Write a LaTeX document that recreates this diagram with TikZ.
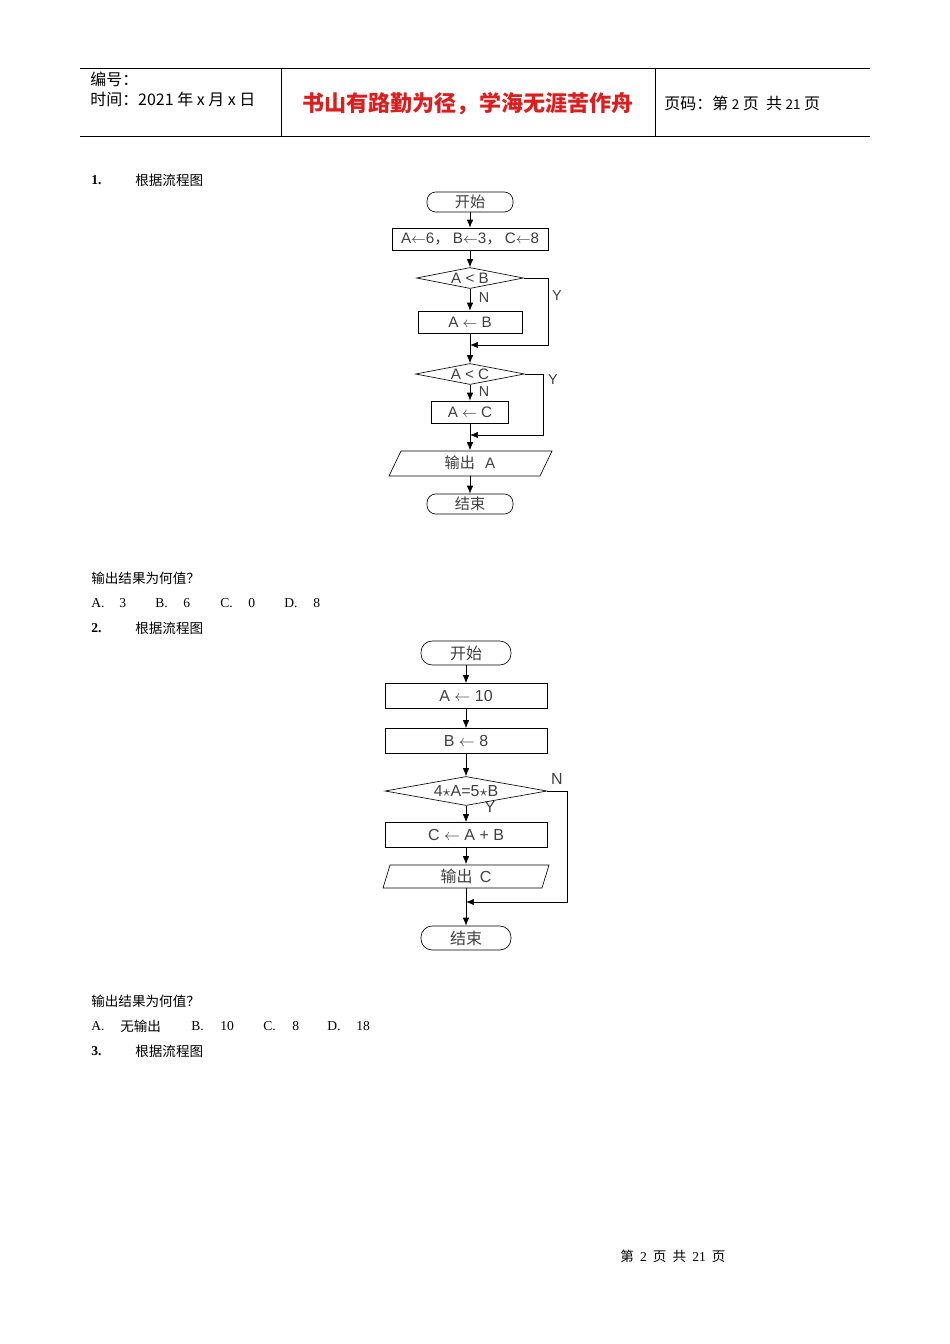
\documentclass[tikz,border=0pt]{standalone}
\usepackage{fontspec}
\setmainfont{Liberation Serif}
\newfontfamily\cjk{Noto Sans CJK SC}
\newfontfamily\sanf{Liberation Sans}
\usetikzlibrary{shapes.geometric,arrows.meta}
\def\u{0.626pt}
\begin{document}
\begin{tikzpicture}[x=0.626pt,y=-0.626pt,
  fc/.style={font=\cjk\fontsize{9.5}{10}\selectfont,inner sep=0,text=black!75},
  term/.style={fc,draw,rounded corners=5.5pt,minimum height=20*\u},
  proc/.style={fc,draw,rectangle,minimum height=22*\u},
  dec/.style={fc,draw,diamond,aspect=5,minimum height=21*\u},
  io/.style={fc},
  arr/.style={-{Latex[length=5pt,width=4pt]},thin},
  body/.style={font=\cjk\fontsize{8.5}{10}\selectfont,anchor=west,inner sep=0},
  opt/.style={font=\fontsize{8.5}{10}\selectfont,anchor=west,inner sep=0},
  lbl/.style={font=\sanf\fontsize{9}{10}\selectfont,inner sep=0,text=black!75}]
\useasboundingbox (0,0) rectangle (950,1344);
\fill[white] (0,0) rectangle (950,1344);
% header
\draw[thin] (80,68) -- (870,68) (80,136) -- (870,136) (281,68) -- (281,136) (655,68) -- (655,136);
\node[body,font=\cjk\fontsize{10}{12}\selectfont] (h1) at (90,79) {编号：};
\node[body,font=\cjk\fontsize{10}{12}\selectfont] (h2) at (90,99) {时间：2021 年 x 月 x 日};
\node[inner sep=0,font=\cjk\bfseries\fontsize{13.8}{15}\selectfont,text={rgb,255:red,220;green,30;blue,30}] (h3) at (468,104) {书山有路勤为径，学海无涯苦作舟};
\node[body,font=\cjk\fontsize{10}{12}\selectfont] (h4) at (664,103) {页码：第 {\fontsize{8.5}{10}\selectfont 2} 页\ \ 共 {\fontsize{8.5}{10}\selectfont 21} 页};
% question 1
\node[opt,font=\bfseries\fontsize{8.5}{10}\selectfont] (q1) at (91,180) {1.};
\node[body] (q1t) at (135,180) {根据流程图};
\node[term,minimum width=86*\u] (s1) at (470,202) {开始};
\node[proc,minimum width=156*\u] (b1) at (470,239) {{\sanf A}$\leftarrow${\sanf 6}，\ {\sanf B}$\leftarrow${\sanf 3}，\ {\sanf C}$\leftarrow${\sanf 8}};
\node[dec,minimum width=107*\u,font=\sanf\fontsize{9.5}{10}\selectfont] (d1) at (470,278) {A < B};
\node[proc,minimum width=104*\u,font=\sanf\fontsize{9.5}{10}\selectfont] (b2) at (470,322) {A $\leftarrow$ B};
\coordinate (j1) at (470,345);
\node[dec,minimum width=109*\u,font=\sanf\fontsize{9.5}{10}\selectfont] (d2) at (470,374) {A < C};
\node[proc,minimum width=77*\u,font=\sanf\fontsize{9.5}{10}\selectfont] (b3) at (470,412) {A $\leftarrow$ C};
\coordinate (j2) at (470,435);
\draw (389,476) -- (401,451) -- (552,451) -- (540,476) -- cycle;
\node[io,minimum width=140*\u,minimum height=25*\u] (o1) at (470,463) {输出\ \ \ {\sanf A}};
\node[term,minimum width=86*\u] (e1) at (470,504) {结束};
\draw[arr] (s1) -- (b1);
\draw[arr] (b1) -- (d1);
\draw[arr] (d1) -- (b2);
\draw (b2) -- (j1);
\draw[arr] (d1.east) -- (548,278) |- (j1);
\draw[arr] (j1) -- (d2);
\draw[arr] (d2) -- (b3);
\draw (b3) -- (j2);
\draw[arr] (d2.east) -- (543,374) |- (j2);
\draw[arr] (j2) -- (o1.north);
\draw[arr] (o1.south) -- (e1);
\node[lbl] (n1) at (484,298) {N};
\node[lbl] (y1) at (557,296) {Y};
\node[lbl] (n2) at (484,392) {N};
\node[lbl] (y2) at (553,380) {Y};
\node[body] (r1) at (91,578) {输出结果为何值？};
\node[opt] (a1) at (91,603) {A.};
\node[opt] (a1v) at (119,603) {3};
\node[opt] (b1o) at (155,603) {B.};
\node[opt] (b1v) at (183,603) {6};
\node[opt] (c1o) at (220,603) {C.};
\node[opt] (c1v) at (248,603) {0};
\node[opt] (d1o) at (284,603) {D.};
\node[opt] (d1v) at (313,603) {8};
% question 2
\node[opt,font=\bfseries\fontsize{8.5}{10}\selectfont] (q2) at (91,628) {2.};
\node[body] (q2t) at (135,628) {根据流程图};
\node[term,minimum width=90*\u,minimum height=24*\u,rounded corners=7pt,font=\cjk\fontsize{10}{11}\selectfont] (s2) at (466,653) {开始};
\node[proc,minimum width=162*\u,minimum height=25*\u,font=\sanf\fontsize{10}{11}\selectfont] (p1) at (466,696) {A $\leftarrow$ 10};
\node[proc,minimum width=162*\u,minimum height=25*\u,font=\sanf\fontsize{10}{11}\selectfont] (p2) at (466,741) {B $\leftarrow$ 8};
\node[dec,minimum width=162*\u,minimum height=29*\u,aspect=5.6,font=\sanf\fontsize{10}{11}\selectfont] (d3) at (466,791) {4$\star$A=5$\star$B};
\node[proc,minimum width=162*\u,minimum height=25*\u,font=\sanf\fontsize{10}{11}\selectfont] (p3) at (466,835) {C $\leftarrow$ A + B};
\draw (383,888) -- (390,865) -- (549,865) -- (542,888) -- cycle;
\node[io,minimum width=150*\u,minimum height=23*\u,font=\cjk\fontsize{10}{11}\selectfont] (o2) at (466,876) {输出\ \ {\sanf C}};
\coordinate (j3) at (466,902);
\node[term,minimum width=90*\u,minimum height=24*\u,rounded corners=7pt,font=\cjk\fontsize{10}{11}\selectfont] (e2) at (466,938) {结束};
\draw[arr] (s2) -- (p1);
\draw[arr] (p1) -- (p2);
\draw[arr] (p2) -- (d3);
\draw[arr] (d3) -- (p3);
\draw[arr] (p3) -- (o2.north);
\draw (o2.south) -- (j3);
\draw[arr] (d3.east) -- (567,791) |- (j3);
\draw[arr] (j3) -- (e2);
\node[lbl,font=\sanf\fontsize{10}{11}\selectfont] (n3) at (557,779) {N};
\node[lbl,font=\sanf\fontsize{10}{11}\selectfont] (y3) at (490,807) {Y};
\node[body] (r2) at (91,1001) {输出结果为何值？};
\node[opt] (a2) at (91,1026) {A.};
\node[body] (a2v) at (120,1026) {无输出};
\node[opt] (b2o) at (191,1026) {B.};
\node[opt] (b2v) at (220,1026) {10};
\node[opt] (c2o) at (263,1026) {C.};
\node[opt] (c2v) at (292,1026) {8};
\node[opt] (d2o) at (327,1026) {D.};
\node[opt] (d2v) at (356,1026) {18};
\node[opt,font=\bfseries\fontsize{8.5}{10}\selectfont] (q3) at (91,1051) {3.};
\node[body] (q3t) at (135,1051) {根据流程图};
\node[inner sep=0,font=\cjk\fontsize{8.5}{10}\selectfont] (ft) at (673,1256) {第\ \ {\rmfamily 2}\ \ 页\ \ 共\ \ {\rmfamily 21}\ \ 页};
\end{tikzpicture}
\end{document}
